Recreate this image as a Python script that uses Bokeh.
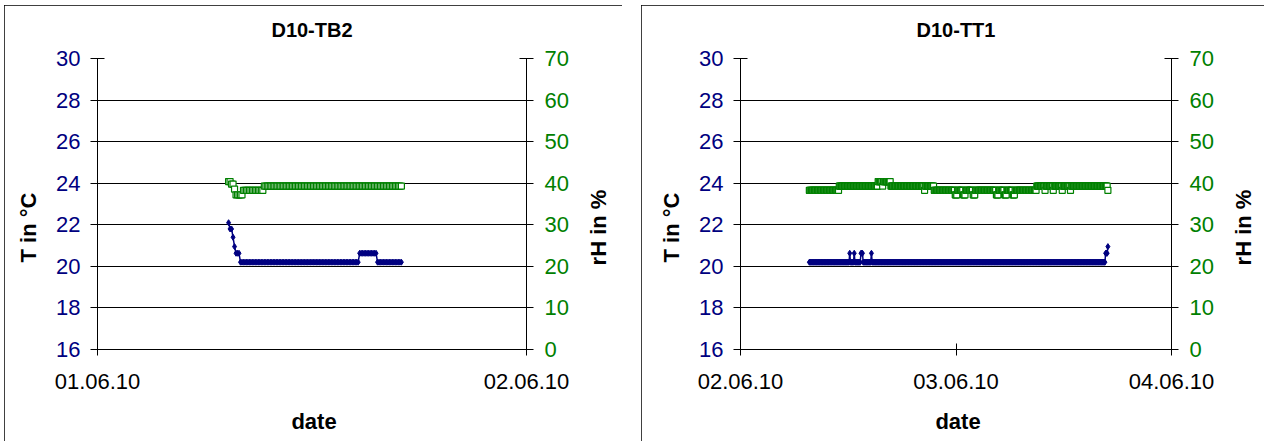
import numpy as np
import pandas as pd
from math import pi

from bokeh.plotting import figure
from bokeh.layouts import row
from bokeh.models import (Range1d, LinearAxis, FixedTicker, DatetimeTickFormatter,
                          Label, GlobalInlineStyleSheet)
from bokeh.embed import file_html
from bokeh.resources import INLINE

# ---------------------------------------------------------------------------
# Logger readings, 5-minute interval, stored as runs of equal readings
# (level, number of consecutive samples).
# ---------------------------------------------------------------------------

# D10-TB2, first sample 01.06.10 07:20
tb2_start = "2010-06-01 07:20"
tb2_temp_levels = [22.1, 21.8, 21.4, 20.95, 20.63, 20.2, 20.63, 20.2]
tb2_temp_counts = [1, 2, 1, 1, 3, 80, 12, 17]
tb2_rh_levels = [40.4, 39.8, 38.6, 37.2, 38.3, 39.3]
tb2_rh_counts = [2, 2, 1, 5, 14, 93]
tb2_days = ["2010-06-01", "2010-06-02"]

# D10-TT1, first sample 02.06.10 07:40
tt1_start = "2010-06-02 07:40"
tt1_temp_levels = [20.2, 20.63, 20.2, 20.63, 20.2, 20.63, 20.2, 20.63, 20.2, 20.63, 20.95]
tt1_temp_counts = [54, 1, 5, 1, 8, 3, 11, 1, 312, 3, 1]
tt1_rh_levels = [38.3, 39.3, 40.4, 39.3, 40.4, 39.3, 38.3, 39.3, 38.3, 37.2,
                 38.3, 37.2, 38.3, 37.2, 38.3, 37.2, 38.3, 37.2, 38.3, 37.2,
                 38.3, 39.3, 38.3, 39.3, 38.3, 39.3, 38.3, 39.3, 38.3, 39.3,
                 38.3]
tt1_rh_counts = [40, 52, 6, 1, 10, 45, 1, 12, 28, 3,
                 8, 3, 10, 3, 28, 3, 8, 3, 8, 3,
                 29, 11, 1, 10, 1, 11, 1, 10, 1, 49,
                 1]
tt1_days = ["2010-06-02", "2010-06-03", "2010-06-04"]

# Axis scales
temp_ticks = [16, 18, 20, 22, 24, 26, 28, 30]
rh_ticks = [0, 10, 20, 30, 40, 50, 60, 70]

NAVY = "#000080"
GREEN = "#008000"
FONT = "Liberation Sans"

FRAME_TOP = 53
FRAME_H = 291
FIG_H = 440


def to_ms(d):
    return pd.Timestamp(d).value // 10**6


def chart(title, start, temp_levels, temp_counts, rh_levels, rh_counts, days,
          width, border_left, frame_width, margin_left):
    temp = np.repeat(temp_levels, temp_counts)
    rh = np.repeat(rh_levels, rh_counts)
    times = pd.date_range(start, periods=len(temp), freq="5min")

    border_right = width - border_left - frame_width
    p = figure(
        width=width, height=FIG_H,
        frame_width=frame_width, frame_height=FRAME_H,
        min_border_left=border_left, min_border_right=border_right,
        min_border_top=FRAME_TOP, min_border_bottom=FIG_H - FRAME_TOP - FRAME_H,
        x_axis_type="datetime",
        x_range=Range1d(pd.Timestamp(days[0]), pd.Timestamp(days[-1])),
        y_range=Range1d(temp_ticks[0], temp_ticks[-1]),
        output_backend="svg", toolbar_location=None,
        background_fill_color="white", border_fill_color="white",
        outline_line_color=None,
        margin=(5, 0, 0, margin_left),
        styles={"outline": "1.5px solid #000000", "outline-offset": "-1.5px"},
    )
    p.extra_y_ranges = {"rh": Range1d(rh_ticks[0], rh_ticks[-1])}

    # x axis: one tick per day
    xa = p.xaxis[0]
    xa.ticker = FixedTicker(ticks=[to_ms(d) for d in days])
    fmt = "%d.%m.%y"
    xa.formatter = DatetimeTickFormatter(
        microseconds=fmt, milliseconds=fmt, seconds=fmt, minsec=fmt,
        minutes=fmt, hourmin=fmt, hours=fmt, days=fmt, months=fmt, years=fmt)
    xa.major_label_text_font = FONT
    xa.major_label_text_font_size = "22px"
    xa.major_label_text_color = "black"
    xa.major_label_standoff = 18
    xa.major_tick_in = 6
    xa.major_tick_out = 6
    xa.minor_tick_line_color = None
    xa.axis_line_color = "black"
    xa.major_tick_line_color = "black"

    # left (temperature) axis
    ya = p.yaxis[0]
    ya.ticker = FixedTicker(ticks=temp_ticks)
    ya.major_label_text_font = FONT
    ya.major_label_text_font_size = "22px"
    ya.major_label_text_color = NAVY
    ya.major_label_standoff = 10
    ya.major_tick_in = 7
    ya.major_tick_out = 7
    ya.minor_tick_line_color = None
    ya.axis_line_color = "black"
    ya.major_tick_line_color = "black"

    # right (relative humidity) axis
    ra = LinearAxis(y_range_name="rh", ticker=FixedTicker(ticks=rh_ticks))
    ra.major_label_text_font = FONT
    ra.major_label_text_font_size = "22px"
    ra.major_label_text_color = GREEN
    ra.major_label_standoff = 11
    ra.major_tick_in = 7
    ra.major_tick_out = 7
    ra.minor_tick_line_color = None
    ra.axis_line_color = "black"
    ra.major_tick_line_color = "black"
    p.add_layout(ra, "right")

    p.xgrid.visible = False
    p.ygrid.ticker = FixedTicker(ticks=temp_ticks)
    p.ygrid.grid_line_color = "black"
    p.ygrid.grid_line_width = 1

    # temperature series
    p.line(times, temp, line_color=NAVY, line_width=1.5)
    p.scatter(times, temp, marker="diamond", size=6,
              fill_color=NAVY, line_color=NAVY)

    # humidity series
    p.line(times, rh, y_range_name="rh", line_color=GREEN, line_width=1.5)
    p.scatter(times, rh, y_range_name="rh", marker="square", size=6,
              fill_color="white", line_color=GREEN, line_width=1.2)

    # chart title and axis titles, placed in canvas pixels inside the side panels
    common = dict(x_units="canvas", y_units="canvas", text_font=FONT,
                  text_font_style="bold", text_color="black",
                  text_align="center", text_baseline="middle")
    frame_right = border_left + frame_width
    p.add_layout(Label(x=border_left + frame_width / 2, y=24, text=title,
                       text_font_size="20px", **common), "above")
    p.add_layout(Label(x=border_left - 69, y=222, text="T in °C",
                       angle=pi / 2, text_font_size="22px", **common), "left")
    p.add_layout(Label(x=frame_right + 72, y=222, text="rH in %",
                       angle=pi / 2, text_font_size="22px", **common), "right")
    p.add_layout(Label(x=border_left + frame_width / 2 + 2, y=416, text="date",
                       text_font_size="22px", **common), "below")
    return p


p1 = chart("D10-TB2", tb2_start, tb2_temp_levels, tb2_temp_counts,
           tb2_rh_levels, tb2_rh_counts, tb2_days,
           width=618, border_left=93, frame_width=429, margin_left=4)
p2 = chart("D10-TT1", tt1_start, tt1_temp_levels, tt1_temp_counts,
           tt1_rh_levels, tt1_rh_counts, tt1_days,
           width=623, border_left=99, frame_width=431, margin_left=19)

layout = row(p1, p2, stylesheets=[GlobalInlineStyleSheet(
    css="html, body { margin: 0; overflow: hidden; background: white; }")])

open("out.html", "w").write(file_html(layout, INLINE))
